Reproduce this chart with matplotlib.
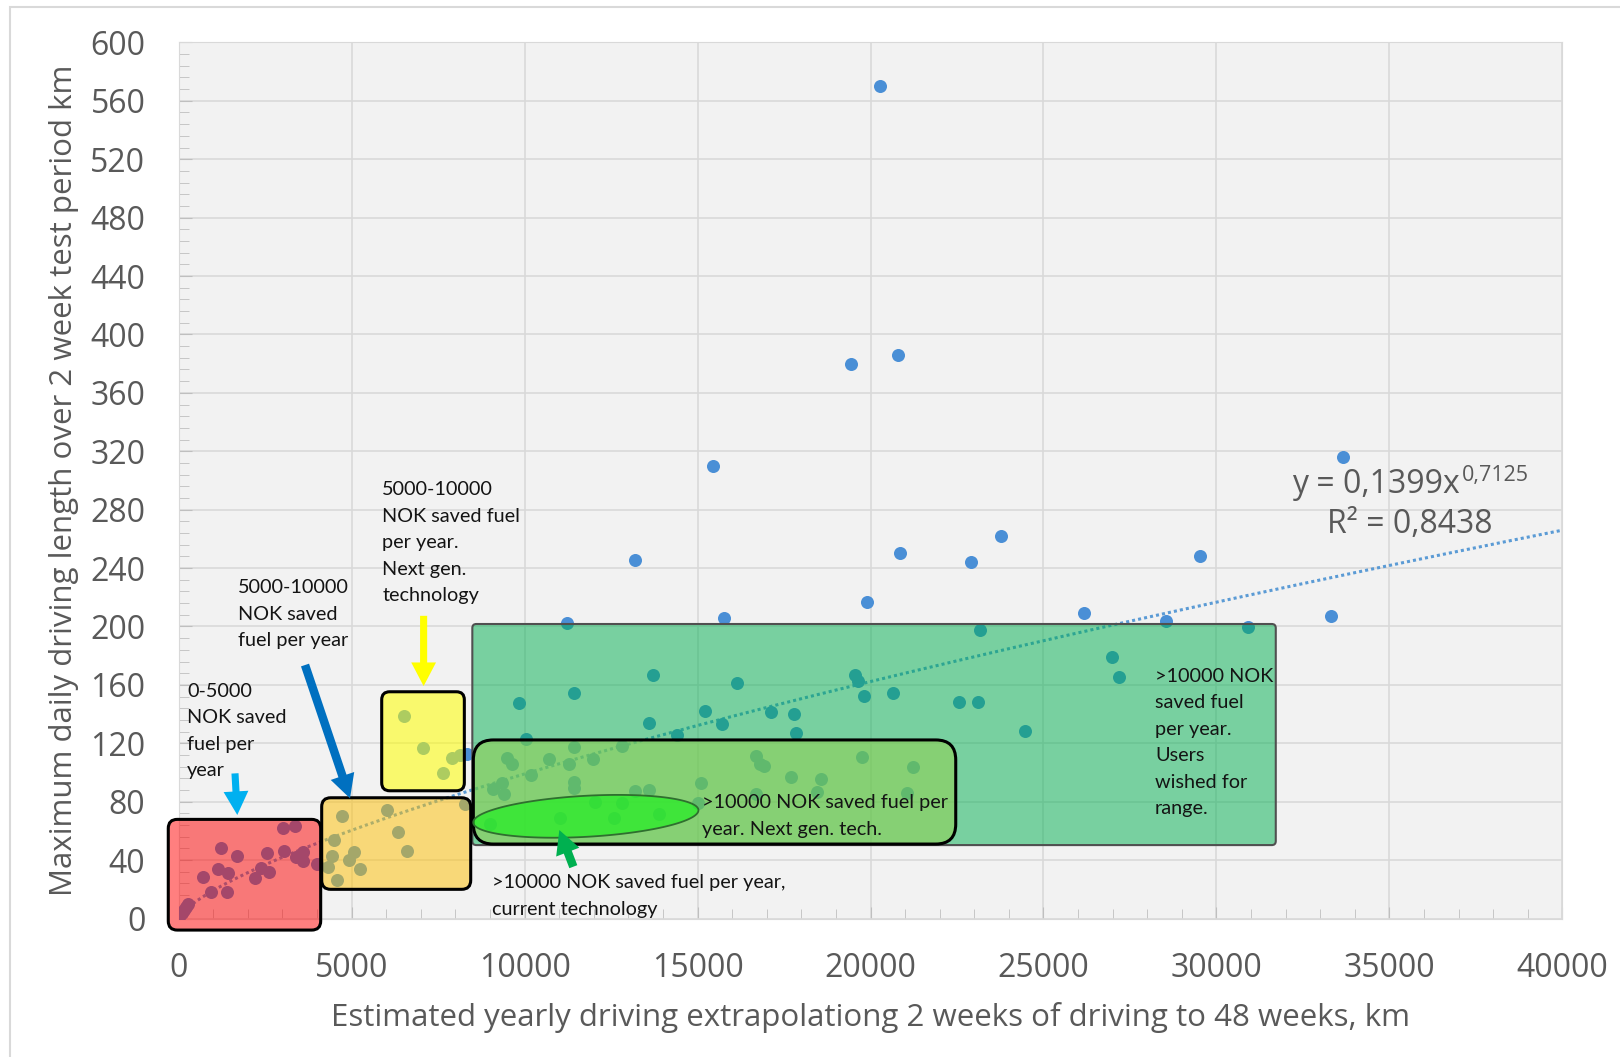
import matplotlib.pyplot as plt
import numpy as np
from matplotlib.patches import FancyBboxPatch, Polygon, Rectangle
from matplotlib.ticker import MultipleLocator

plt.rcParams['font.family'] = ['Open Sans', 'DejaVu Sans']

# yearly km (x) vs max daily km (y)
yearly_km = [20, 90, 140, 210, 280,
             712, 934, 1127, 1223, 1416, 1406, 1677, 2206, 2380, 2544, 2621, 3025, 3363, 3054, 3383, 3604, 3585, 3990,
             4499, 4712, 4424, 4326, 4568, 4933, 5068, 5242, 6014, 6349, 6592, 8278,
             6523, 7054, 7633, 7893, 8133, 8330,
             9848, 11429, 13704, 16133, 19562, 19631, 19822, 20661, 22550, 23119, 15220, 13597, 15699, 17117,
             17790, 17848, 14398, 10041, 23168, 26975, 27195, 24468, 30908,
             9483, 9628, 10715, 11429, 11293, 11987, 12808, 10186, 9096, 9338, 9405, 11429, 11429, 13193, 13597,
             15101, 16691, 16807, 16931, 17712, 18570, 19765, 21239, 21048, 18446, 16691,
             9000, 11024, 12586, 13887, 12036, 12826, 15023,
             20283, 19446, 20790, 15443, 33663, 13203, 20850, 22910, 23777, 29512, 19893, 11231, 15771,
             26166, 28556, 33305]
daily_max_km = [1, 4, 6, 8, 10,
                28.6, 18, 33.7, 48.5, 31, 18, 42.8, 28, 34.4, 45, 31.6, 61.8, 63.6, 46.2, 42.3, 45.3, 39.4, 37.3,
                53.8, 70.2, 42.8, 35.5, 26.4, 40, 45.3, 33.9, 74.3, 59.4, 46.2, 78.2,
                138.9, 116.5, 99.4, 109.7, 112, 113,
                147.8, 154.2, 166.8, 161.5, 166.8, 162.7, 152.6, 154.2, 148.5, 148.5, 142.1, 134.1, 133.2, 141.2,
                139.8, 126.8, 125.7, 122.7, 197.6, 178.9, 165.6, 128.6, 199.8,
                109.7, 105.8, 109.2, 117.7, 105.6, 109, 118.3, 98.3, 88.7, 92.6, 85.3, 93.7, 89.2, 87.5, 88,
                92.6, 111.3, 105.8, 104.6, 96.7, 95.3, 110.8, 104, 86.2, 86.8, 85.3,
                64.7, 68.6, 68.6, 71.4, 80, 78.9, 78.9,
                570, 380, 386, 310, 316, 245.5, 250, 244, 262, 248, 217, 202.6, 205.6,
                209, 204, 207]

# power trendline from the chart
fit_a = 0.1399
fit_b = 0.7125
fit_eq = 'y = 0,1399x'
fit_exp = '0,7125'
fit_r2 = 'R² = 0,8438'

grey = '#595959'
fig = plt.figure(figsize=(16.2, 10.57), dpi=100)
ax = fig.add_axes([0.1103, 0.131, 0.8541, 0.8289])
ax.set_facecolor('#f2f2f2')
fig.patches.append(Rectangle((10 / 1620, -0.05), 1.2, 1.05 - 7 / 1057, transform=fig.transFigure,
                             fill=False, ec='#d9d9d9', lw=1.5))

ax.set_xlim(0, 40000)
ax.set_ylim(0, 600)
ax.xaxis.set_major_locator(MultipleLocator(5000))
ax.xaxis.set_minor_locator(MultipleLocator(1000))
ax.yaxis.set_major_locator(MultipleLocator(40))
ax.yaxis.set_minor_locator(MultipleLocator(8))
ax.grid(True, which='major', color='#d9d9d9', lw=1.2, zorder=0)
ax.set_axisbelow(True)
ax.tick_params(which='both', direction='in', colors='#bfbfbf', labelcolor=grey, labelsize=23)
ax.tick_params(which='major', length=9)
ax.tick_params(which='minor', length=7)
ax.tick_params(axis='x', pad=24)
ax.tick_params(axis='y', pad=24)
for s in ax.spines.values():
    s.set_color('#d9d9d9')

ax.set_xlabel('Estimated yearly driving extrapolationg 2 weeks of driving to 48 weeks, km',
              fontsize=22.5, color=grey, labelpad=12)
ax.set_ylabel('Maximum daily driving length over 2 week test period km',
              fontsize=22.5, color=grey, labelpad=8)

# trendline
xt = np.linspace(30, 40000, 500)
ax.plot(xt, fit_a * xt ** fit_b, color='#5b9bd5', lw=2.2, ls=(0, (1, 1)), zorder=2)
ax.scatter(yearly_km, daily_max_km, s=88, color='#4a8fd6', zorder=3, linewidths=0)

ax.text(37045, 297, fit_eq, fontsize=23, color=grey, ha='right', va='center')
ax.text(37090, 303.5, fit_exp, fontsize=15.5, color=grey, ha='left', va='center')
ax.text(35600, 269.5, fit_r2, fontsize=23, color=grey, ha='center', va='center')

# aspect factor so rounded corners are round on screen
asp = (600 / 876.1) / (40000 / 1383.6)


def box(x0, x1, y0, y1, fc, alpha, round_px, ec='black', lw=2.2):
    style = 'round,pad=0,rounding_size=%f' % (round_px * 40000 / 1383.6)
    p = FancyBboxPatch((x0, y0), x1 - x0, y1 - y0, boxstyle=style,
                       mutation_aspect=asp, fc=fc, alpha=alpha, ec='none', zorder=4, clip_on=False)
    ax.add_patch(p)
    e = FancyBboxPatch((x0, y0), x1 - x0, y1 - y0, boxstyle=style,
                       mutation_aspect=asp, fc='none', ec=ec, lw=lw, zorder=5, clip_on=False)
    ax.add_patch(e)


box(8489, 31716, 50.3, 201.7, '#00b050', 0.5, 4, ec='#505050', lw=1.5)
box(-301, 4105, -7.9, 67.9, '#ff0000', 0.5, 9)
box(4134, 8442, 20, 82.7, '#ffc000', 0.5, 9)
box(5869, 8258, 87.5, 155.3, '#ffff00', 0.55, 8)
box(8518, 22464, 51, 122.3, '#92d050', 0.55, 20)

# ellipse, drawn in screen pixels then mapped back to data
px_x = 1383.6 / 40000
px_y = 876.1 / 600
t = np.linspace(0, 2 * np.pi, 200)
a_px, b_px, th = 112.8, 20.5, np.radians(3.2)
ex = 11770 + (a_px * np.cos(t) * np.cos(th) - b_px * np.sin(t) * np.sin(th)) / px_x
ey = 70 + (a_px * np.cos(t) * np.sin(th) + b_px * np.sin(t) * np.cos(th)) / px_y
ax.add_patch(Polygon(np.column_stack([ex, ey]), closed=True, fc='#22ee22', alpha=0.7, ec='none', zorder=6))
ax.add_patch(Polygon(np.column_stack([ex, ey]), closed=True, fc='none', ec='#2f6f2f', lw=1.3, zorder=6))


# arrows
def arrow(xy0, xy1, c, tail=0.3):
    ax.annotate('', xy=xy1, xytext=xy0,
                arrowprops=dict(arrowstyle='simple,head_length=1.0,head_width=1.05,tail_width=%s' % tail,
                                color=c, lw=0, mutation_scale=17, shrinkA=0, shrinkB=0),
                zorder=7, annotation_clip=False)


arrow((1628, 99.4), (1694, 70.9), '#00b0f0')
arrow((3652, 173.6), (4953, 82.3), '#0070c0', tail=0.36)
arrow((7081, 207.3), (7081, 159.2), '#ffff00')
arrow((11409, 35.5), (11004, 60.6), '#00b050', tail=0.36)

tk = dict(fontsize=14.3, family=['Lato', 'DejaVu Sans'], color='#141414', ha='left', va='center',
          linespacing=1.68, zorder=8)
ax.text(240, 128.4, '0-5000\nNOK saved\nfuel per\nyear', **tk)
ax.text(1703, 208.3, '5000-10000\nNOK saved\nfuel per year', **tk)
ax.text(5886, 257.2, '5000-10000\nNOK saved fuel\nper year.\nNext gen.\ntechnology', **tk)
ax.text(15121, 70.3, '>10000 NOK saved fuel per\nyear. Next gen. tech.', **tk)
ax.text(9050, 15.4, '>10000 NOK saved fuel per year,\ncurrent technology', **tk)
ax.text(28227, 120.5, '>10000 NOK\nsaved fuel\nper year.\nUsers\nwished for\nrange.', **tk)

fig.savefig('out.png', dpi=100)
